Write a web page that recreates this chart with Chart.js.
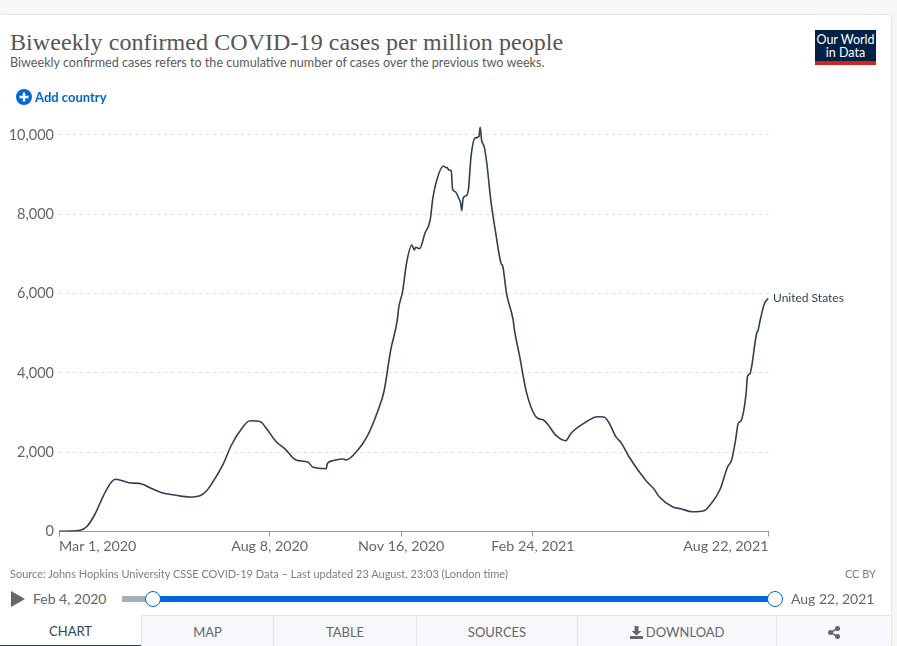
<!DOCTYPE html>
<html>
<head>
<meta charset="utf-8">
<title>Biweekly confirmed COVID-19 cases per million people</title>
<script src="https://cdn.jsdelivr.net/npm/chart.js@4"></script>
<style>
  html, body { margin: 0; padding: 0; width: 897px; height: 646px; overflow: hidden; background: #f7f7f7; font-family: Lato, sans-serif; }
  .card { position: absolute; left: 0; top: 15px; width: 891px; height: 631px; background: #fff; box-shadow: 0 0 2px rgba(0,0,0,.25); border-top-right-radius: 2px; }
  .abs { position: absolute; white-space: nowrap; }
  #chart { position: absolute; left: 0; top: 100px; }
  .title { left: 10px; top: 27px; font-family: "Liberation Serif", serif; font-size: 24px; line-height: 30px; color: #555; letter-spacing: .08px; }
  .subtitle { left: 10px; top: 55px; font-size: 12.6px; line-height: 16px; color: #5b5b5b; }
  .logo { left: 815px; top: 30px; width: 61px; height: 31px; background: #002147; color: #fff; font-size: 12.5px; line-height: 13px; text-align: center; padding-top: 3px; box-sizing: border-box; border-bottom: 0; }
  .logobar { left: 815px; top: 61px; width: 61px; height: 4px; background: #ce261e; }
  .add { left: 35px; top: 89px; font-size: 13px; line-height: 16px; font-weight: 700; color: #0066d9; }
  .source { left: 10px; top: 567px; font-size: 11px; line-height: 14px; color: #7d7d7d; }
  .ccby { right: 21px; top: 567px; font-size: 11px; line-height: 14px; color: #7d7d7d; }
  .date { top: 590px; font-size: 14px; line-height: 18px; color: #666; }
  .track { top: 596px; height: 6px; }
  .handle { width: 14px; height: 14px; top: 591px; border: 1.5px solid #0066d9; border-radius: 50%; background: #fff; }
  .tab { top: 615px; height: 31px; box-sizing: border-box; background: #f7f8fb; border-top: 1px solid #e2e2e2; border-left: 1px solid #e2e2e2; font-size: 13px; line-height: 33px; text-align: center; color: #666; }
  .tab.active { background: #fff; border-top: 0; border-left: 0; border-bottom: 1.5px solid #2c4560; color: #2c4560; }
</style>
</head>
<body>
<div class="card"></div>
<canvas id="chart" width="897" height="470"></canvas>

<div class="abs title">Biweekly confirmed COVID-19 cases per million people</div>
<div class="abs subtitle">Biweekly confirmed cases refers to the cumulative number of cases over the previous two weeks.</div>
<div class="abs logo">Our World<br>in Data</div>
<div class="abs logobar"></div>

<svg class="abs" style="left:16px;top:89px" width="16" height="16" viewBox="0 0 16 16">
  <circle cx="8" cy="8" r="8" fill="#0066d9"/>
  <path d="M8 3.5v9M3.5 8h9" stroke="#fff" stroke-width="2.4"/>
</svg>
<div class="abs add">Add country</div>

<div class="abs source">Source: Johns Hopkins University CSSE COVID-19 Data – Last updated 23 August, 23:03 (London time)</div>
<div class="abs ccby">CC BY</div>

<svg class="abs" style="left:11px;top:591px" width="15" height="17" viewBox="0 0 15 17"><path d="M0 0L14 8L0 16Z" fill="#666"/></svg>
<div class="abs date" style="left:33px">Feb 4, 2020</div>
<div class="abs track" style="left:122px;width:32px;background:#a5aebb"></div>
<div class="abs track" style="left:153px;width:622px;background:#0066d9"></div>
<div class="abs handle" style="left:145px"></div>
<div class="abs handle" style="left:767px"></div>
<div class="abs date" style="left:791px">Aug 22, 2021</div>

<div class="abs tab active" style="left:0;width:141px">CHART</div>
<div class="abs tab" style="left:141px;width:132px">MAP</div>
<div class="abs tab" style="left:273px;width:143px">TABLE</div>
<div class="abs tab" style="left:416px;width:161px">SOURCES</div>
<div class="abs tab" style="left:577px;width:199px">
  <svg width="13" height="13" viewBox="0 0 13 13" style="vertical-align:-2px"><path d="M4.5 0h4v5h3L6.500 9.500 1.500 5h3zM0 10h13v3H0z" fill="#666"/></svg>
  DOWNLOAD</div>
<div class="abs tab" style="left:776px;width:115px">
  <svg width="12" height="13" viewBox="0 0 12 13" style="vertical-align:-2px"><path d="M9.500 2.500L2.500 6.500L9.500 10.500" stroke="#666" stroke-width="1.500" fill="none"/><circle cx="9.500" cy="2.500" r="2.500" fill="#666"/><circle cx="2.500" cy="6.500" r="2.500" fill="#666"/><circle cx="9.500" cy="10.500" r="2.500" fill="#666"/></svg>
</div>

<script>
// days since Mar 1, 2020
const days = [
  0, 8, 16, 21, 27, 34, 40, 43, 53, 63, 69, 78, 89, 99, 107, 112, 117, 125, 131, 139,
  145, 153, 158, 165, 172, 180, 189, 193, 203, 204, 208, 216, 218, 226, 234, 242, 247, 252, 257, 258,
  261, 264, 268, 270, 271, 274, 278, 282, 284, 287, 292, 294, 295, 296, 298, 299, 301, 304, 305, 306,
  307, 309, 311, 313, 316, 319, 320, 321, 323, 325, 328, 332, 336, 337, 340, 345, 346, 350, 355, 363,
  368, 378, 385, 389, 400, 409, 414, 418, 423, 427, 433, 446, 452, 456, 466, 473, 481, 490, 495, 502,
  508, 511, 514, 516, 518, 522, 523, 525, 530, 531, 533, 536, 539
];
const cases = [
  5, 10, 30, 120, 416, 920, 1256, 1316, 1231, 1198, 1105, 979, 913, 870, 903, 1021, 1256, 1720, 2181, 2603,
  2794, 2769, 2577, 2265, 2073, 1803, 1753, 1619, 1584, 1720, 1786, 1828, 1803, 2013, 2391, 3021, 3550, 4577, 5334, 5629,
  6048, 6764, 7226, 7100, 7168, 7132, 7520, 7856, 8404, 8865, 9218, 9175, 9175, 9117, 9100, 8630, 8570, 8378, 8300, 8090,
  8404, 8461, 8613, 9452, 9917, 9957, 10194, 9874, 9705, 9286, 8361, 7478, 6746, 6703, 6000, 5334, 5082, 4408, 3526, 2870,
  2812, 2409, 2290, 2477, 2754, 2895, 2888, 2729, 2391, 2240, 1886, 1281, 1072, 878, 625, 567, 499, 525, 686, 1047,
  1634, 1803, 2308, 2729, 2787, 3485, 3904, 3990, 4999, 5064, 5377, 5755, 5881
];
const xTickDays = [0, 160, 260, 360, 539];
const xTickLabels = ["Mar 1, 2020", "Aug 8, 2020", "Nov 16, 2020", "Feb 24, 2021", "Aug 22, 2021"];
const yTicks = [0, 2000, 4000, 6000, 8000, 10000];
const seriesName = "United States";

const lineColor = "#2f3f58";
const font = "Lato";

// Chart.js can't align single ticks, first and last label sit inside the axis
const xLabels = {
  id: "xLabels",
  afterDraw(chart) {
    const { ctx, scales } = chart;
    ctx.save();
    ctx.font = "14.3px " + font;
    ctx.fillStyle = "#666";
    ctx.textBaseline = "middle";
    xTickDays.forEach((d, i) => {
      ctx.textAlign = i === 0 ? "left" : i === xTickDays.length - 1 ? "right" : "center";
      ctx.fillText(xTickLabels[i], scales.x.getPixelForValue(d), scales.y.bottom + 15);
    });
    // series label next to the last point
    ctx.font = "12px " + font;
    ctx.fillStyle = lineColor;
    ctx.textAlign = "left";
    ctx.fillText(seriesName,
      scales.x.getPixelForValue(days[days.length - 1]) + 4.5,
      scales.y.getPixelForValue(cases[cases.length - 1]));
    ctx.restore();
  }
};

new Chart(document.getElementById("chart"), {
  type: "line",
  data: {
    datasets: [{
      label: seriesName,
      data: days.map((d, i) => ({ x: d, y: cases[i] })),
      borderColor: lineColor,
      borderWidth: 1.6,
      pointRadius: 0,
      cubicInterpolationMode: "monotone",
      fill: false
    }]
  },
  options: {
    responsive: false,
    animation: false,
    layout: { padding: { top: 25, right: 128.5, left: 0, bottom: 0 } },
    plugins: { legend: { display: false }, tooltip: { enabled: false } },
    scales: {
      x: {
        type: "linear",
        min: 0,
        max: 539,
        afterBuildTicks: (scale) => { scale.ticks = xTickDays.map((v) => ({ value: v })); },
        afterFit: (scale) => { scale.height = 38.5; },
        ticks: { display: false },
        grid: { drawOnChartArea: false, drawTicks: true, tickLength: 5, tickColor: "#999" },
        border: { color: "#999" }
      },
      y: {
        min: 0,
        max: 10250,
        afterBuildTicks: (scale) => { scale.ticks = yTicks.map((v) => ({ value: v })); },
        afterFit: (scale) => { scale.width = 59; },
        ticks: {
          padding: 5,
          color: "#666",
          font: { family: font, size: 14.5 },
          callback: (v) => v.toLocaleString("en-US")
        },
        grid: {
          drawTicks: false,
          color: (c) => (c.tick && c.tick.value === 0 ? "transparent" : "#ddd"),
          lineWidth: 1
        },
        border: { display: false, dash: [3, 4] }
      }
    }
  },
  plugins: [xLabels]
});
</script>
</body>
</html>
